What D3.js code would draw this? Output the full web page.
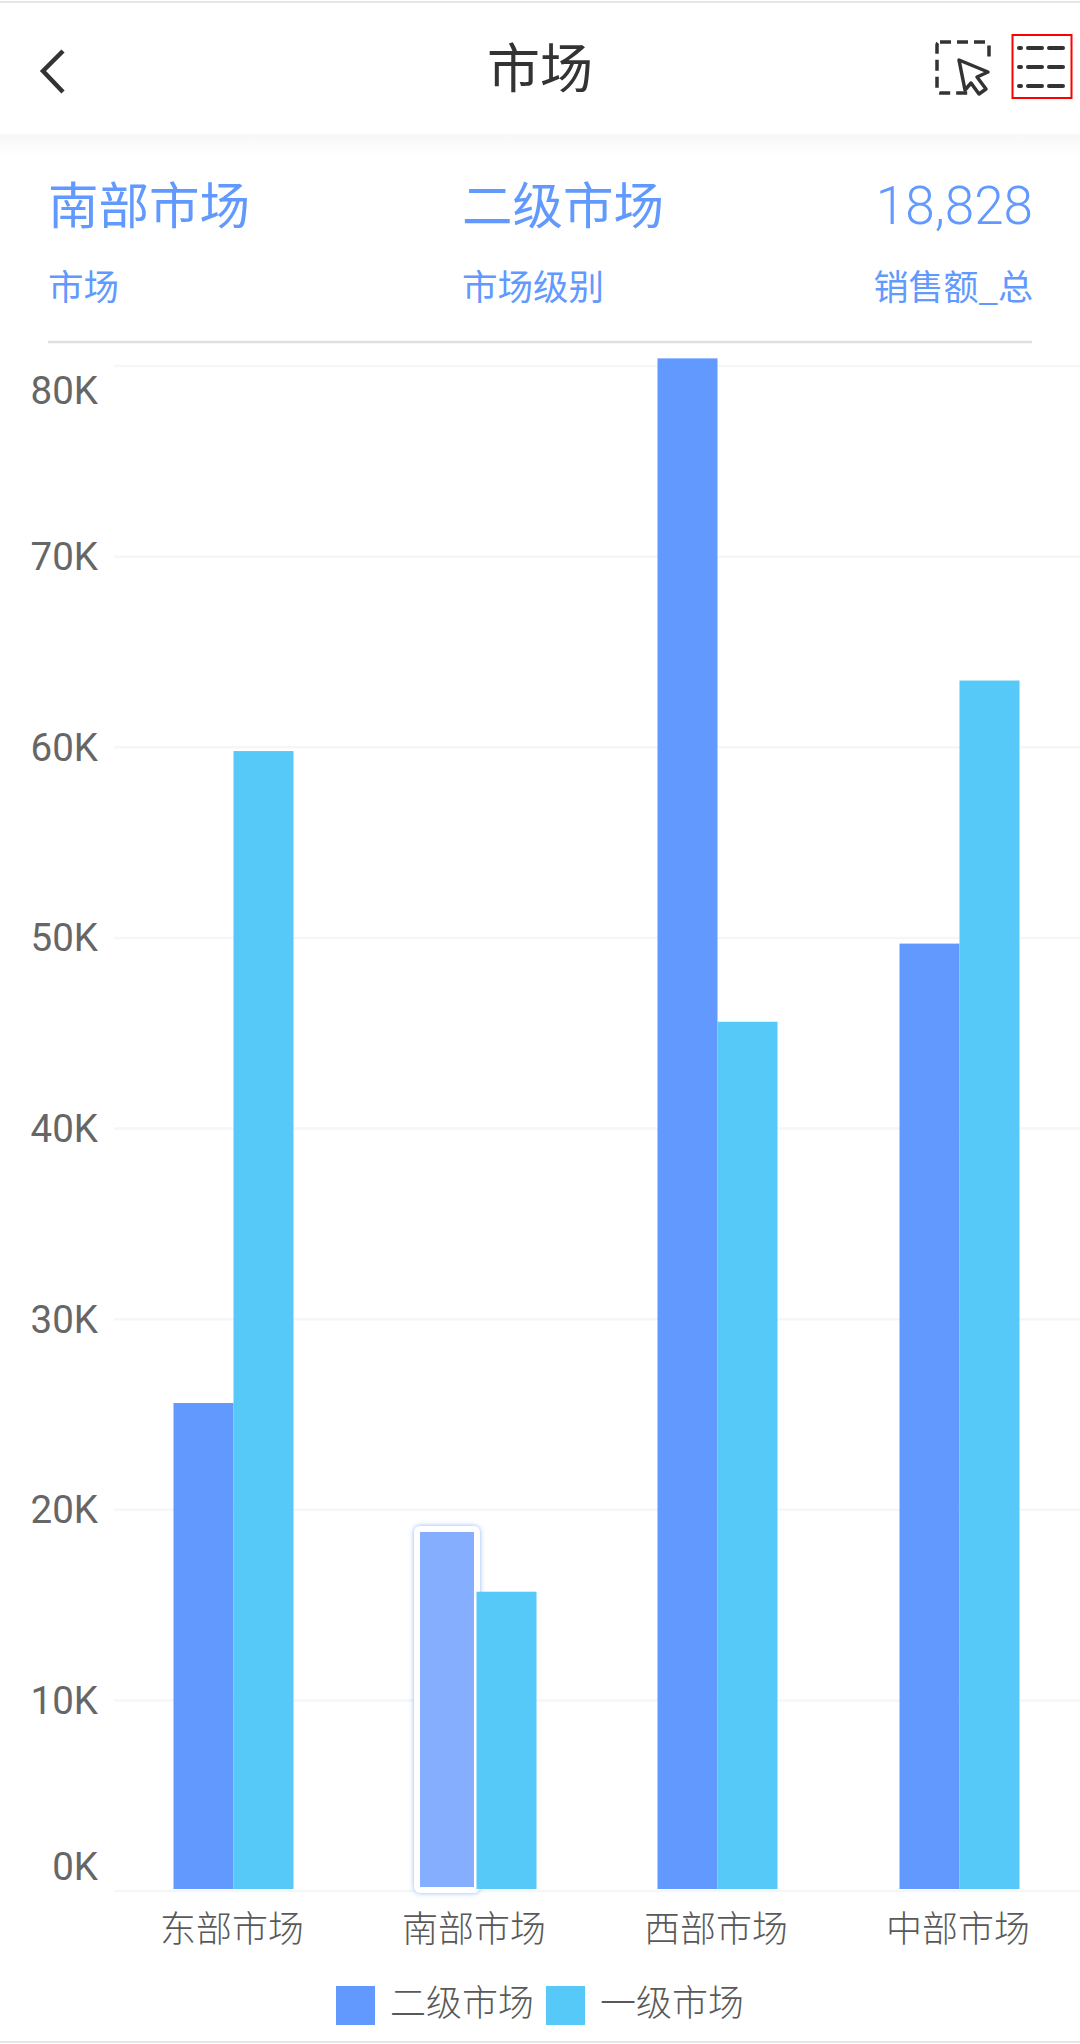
<!DOCTYPE html>
<html>
<head>
<meta charset="utf-8">
<script src="https://cdn.jsdelivr.net/npm/d3@7"></script>
<style>
  html, body { margin: 0; padding: 0; background: #fff; }
  svg { display: block; }
  text { font-family: "Noto Sans CJK SC", "Noto Sans", sans-serif; }
  .axis path, .axis line { display: none; }
  .axis text { fill: #666; font-size: 38.5px; font-family: Roboto, "Noto Sans", sans-serif; font-weight: 400; }
  .axis--x text { fill: #595959; font-size: 36px; font-family: "Noto Sans CJK SC", sans-serif; font-weight: 300; }
</style>
</head>
<body>
<div id="vis"></div>
<script>
// values
var categories = ["东部市场", "南部市场", "西部市场", "中部市场"];
var seriesNames = ["二级市场", "一级市场"];
var secondTier = [25600, 18828, 80400, 49700];
var firstTier = [59800, 15700, 45600, 63500];
var yTicks = [0, 10000, 20000, 30000, 40000, 50000, 60000, 70000, 80000];
var seriesColors = ["#6199ff", "#57c9f9"];
var selected = { category: "南部市场", series: "二级市场" };
var infoValues = ["南部市场", "二级市场", "18,828"];
var infoLabels = ["市场", "市场级别", "销售额_总"];

var width = 1080, height = 2044;
var plot = { left: 113, right: 1081, top: 366, bottom: 1891 };

var svg = d3.select("#vis").append("svg")
  .attr("width", width)
  .attr("height", height);

var x = d3.scaleBand()
  .domain(categories)
  .range([plot.left, plot.right])
  .paddingInner(0.5)
  .paddingOuter(0.25);

var xInner = d3.scaleBand()
  .domain(seriesNames)
  .range([0, x.bandwidth() - 1]);

var y = d3.scaleLinear().domain([0, 80000]).range([plot.bottom, plot.top]);

// page frame
svg.append("line").attr("x1", 0).attr("x2", width).attr("y1", 2).attr("y2", 2)
  .attr("stroke", "#e6e6e6").attr("stroke-width", 2);
svg.append("line").attr("x1", 0).attr("x2", width).attr("y1", 2042).attr("y2", 2042)
  .attr("stroke", "#e6e6e6").attr("stroke-width", 2);

// soft shadow under the header
var grad = svg.append("defs").append("linearGradient")
  .attr("id", "headerShadow")
  .attr("x1", 0).attr("x2", 0).attr("y1", 0).attr("y2", 1);
grad.append("stop").attr("offset", "0%").attr("stop-color", "#f7f7f7");
grad.append("stop").attr("offset", "100%").attr("stop-color", "#ffffff");
svg.append("rect").attr("x", 0).attr("y", 134).attr("width", width).attr("height", 22)
  .attr("fill", "url(#headerShadow)");

// header
svg.append("path")
  .attr("d", "M63,51 L43,71 L63,92")
  .attr("fill", "none")
  .attr("stroke", "#333")
  .attr("stroke-width", 4.5);

svg.append("text")
  .attr("x", 540).attr("y", 88)
  .attr("text-anchor", "middle")
  .attr("font-size", 53)
  .attr("fill", "#333")
  .text("市场");

// box select icon
svg.append("rect")
  .attr("x", 937).attr("y", 42).attr("width", 52).attr("height", 51)
  .attr("rx", 3)
  .attr("fill", "none")
  .attr("stroke", "#333")
  .attr("stroke-width", 3.5)
  .attr("stroke-dasharray", "11 6");
svg.append("rect").attr("x", 968).attr("y", 62).attr("width", 26).attr("height", 34).attr("fill", "#fff");
svg.append("path")
  .attr("d", "M959,60 L988,72 L977,77 L986,89 L979,94 L971,83 L965,90 Z")
  .attr("fill", "#fff")
  .attr("stroke", "#333")
  .attr("stroke-width", 3.5)
  .attr("stroke-linejoin", "round");

// list icon with the red box round it
[48, 67, 86].forEach(function(rowY) {
  svg.append("line").attr("x1", 1019).attr("x2", 1021).attr("y1", rowY).attr("y2", rowY)
    .attr("stroke", "#333").attr("stroke-width", 4).attr("stroke-linecap", "round");
  svg.append("line").attr("x1", 1028).attr("x2", 1042).attr("y1", rowY).attr("y2", rowY)
    .attr("stroke", "#333").attr("stroke-width", 4).attr("stroke-linecap", "round");
  svg.append("line").attr("x1", 1049).attr("x2", 1063).attr("y1", rowY).attr("y2", rowY)
    .attr("stroke", "#333").attr("stroke-width", 4).attr("stroke-linecap", "round");
});
svg.append("rect")
  .attr("x", 1012.5).attr("y", 35).attr("width", 59).attr("height", 63)
  .attr("fill", "none")
  .attr("stroke", "#f00")
  .attr("stroke-width", 2);

// selected item info
var infoX = [48, 462, 1033];
var infoAnchor = ["start", "start", "end"];
infoValues.forEach(function(v, i) {
  svg.append("text")
    .attr("x", infoX[i]).attr("y", 224)
    .attr("text-anchor", infoAnchor[i])
    .attr("font-size", i == 2 ? 53 : 50.5)
    .attr("font-weight", i == 2 ? 300 : 400)
    .style("font-family", i == 2 ? "Roboto, sans-serif" : null)
    .attr("fill", "#6199ff")
    .text(v);
  svg.append("text")
    .attr("x", infoX[i]).attr("y", 300)
    .attr("text-anchor", infoAnchor[i])
    .attr("font-size", i == 2 ? 35 : 35.5)
    .attr("fill", "#6199ff")
    .text(infoLabels[i]);
});
svg.append("line").attr("x1", 48).attr("x2", 1032).attr("y1", 342).attr("y2", 342)
  .attr("stroke", "#e0e0e0").attr("stroke-width", 2.5);

// grid
svg.selectAll(".grid")
  .data(yTicks)
  .enter().append("line")
    .attr("class", "grid")
    .attr("x1", plot.left + 1)
    .attr("x2", width)
    .attr("y1", function(d) { return y(d); })
    .attr("y2", function(d) { return y(d); })
    .attr("stroke", "#f5f6f7")
    .attr("stroke-width", 2.5);

// y axis, first and last label are pulled inside the plot
var yAxis = svg.append("g")
  .attr("class", "axis axis--y")
  .attr("transform", "translate(98,0)")
  .call(d3.axisLeft(y).tickValues(yTicks).tickSize(0).tickPadding(0)
    .tickFormat(function(d) { return (d / 1000) + "K"; }));
yAxis.selectAll(".tick text")
  .attr("dy", function(d) {
    if (d == 0) return "-0.3em";
    if (d == 80000) return "0.98em";
    return "0.34em";
  });

// x axis, labels sit a little left of the band centre
svg.append("g")
  .attr("class", "axis axis--x")
  .attr("transform", "translate(-2," + plot.bottom + ")")
  .call(d3.axisBottom(x).tickSize(0).tickPadding(25));

// bars
var rows = [];
categories.forEach(function(c, i) {
  rows.push({ category: c, series: seriesNames[0], value: secondTier[i], color: seriesColors[0] });
  rows.push({ category: c, series: seriesNames[1], value: firstTier[i], color: seriesColors[1] });
});

function isSelected(d) {
  return d.category == selected.category && d.series == selected.series;
}

// highlighted bar: white border with a pale blue glow, sits under its neighbour
var glow = svg.select("defs").append("filter")
  .attr("id", "barGlow")
  .attr("x", "-20%").attr("y", "-10%").attr("width", "140%").attr("height", "120%");
glow.append("feDropShadow")
  .attr("dx", 0).attr("dy", 0)
  .attr("stdDeviation", 2.5)
  .attr("flood-color", "#7fabff")
  .attr("flood-opacity", 0.9);

svg.selectAll(".barSelected")
  .data(rows.filter(isSelected))
  .enter().append("rect")
    .attr("class", "barSelected")
    .attr("x", function(d) { return x(d.category) + xInner(d.series) + 1.5; })
    .attr("y", function(d) { return y(d.value) - 3; })
    .attr("width", 60)
    .attr("height", function(d) { return plot.bottom - y(d.value) + 2; })
    .attr("rx", 3)
    .attr("fill", "#85aeff")
    .attr("stroke", "#fff")
    .attr("stroke-width", 6)
    .attr("filter", "url(#barGlow)");

svg.selectAll(".bar")
  .data(rows.filter(function(d) { return !isSelected(d); }))
  .enter().append("rect")
    .attr("class", "bar")
    .attr("x", function(d) { return x(d.category) + xInner(d.series) + (d.category == selected.category ? 1 : 0); })
    .attr("y", function(d) { return y(d.value); })
    .attr("width", xInner.bandwidth())
    .attr("height", function(d) { return plot.bottom - 2 - y(d.value); })
    .attr("fill", function(d) { return d.color; });

// legend
var legendX = d3.scaleOrdinal().domain(seriesNames).range([336, 546]);
var legend = svg.selectAll(".legend")
  .data(seriesNames)
  .enter().append("g")
    .attr("class", "legend")
    .attr("transform", function(d) { return "translate(" + legendX(d) + ",1986)"; });
legend.append("rect")
  .attr("width", 39)
  .attr("height", 39)
  .attr("fill", function(d, i) { return seriesColors[i]; });
legend.append("text")
  .attr("x", 54)
  .attr("y", 30)
  .attr("font-size", 36)
  .attr("font-weight", 300)
  .attr("fill", "#595959")
  .text(function(d) { return d; });
</script>
</body>
</html>
